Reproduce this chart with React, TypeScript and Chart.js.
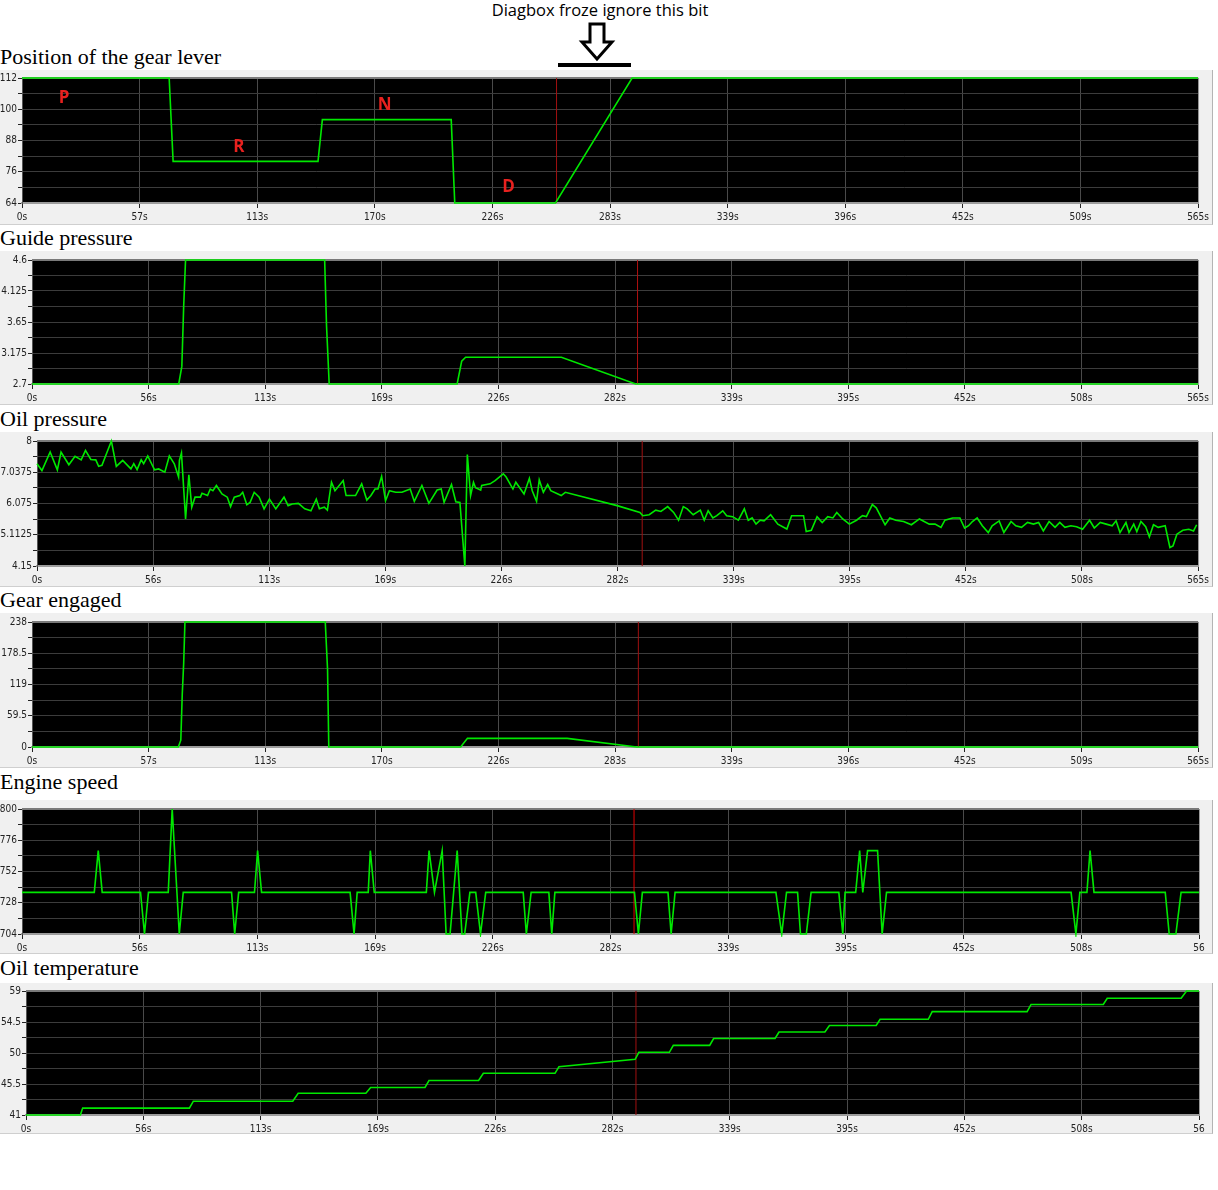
import { useEffect, useRef } from 'react';
import { Chart, registerables } from 'chart.js';

Chart.register(...registerables);

// x axis: tick positions (seconds) and the labels each panel shows
const tickSec = [0, 56.5, 113, 169.5, 226, 282.5, 339, 395.5, 452, 508.5, 565];
const xLabelsA = ['0s', '57s', '113s', '170s', '226s', '283s', '339s', '396s', '452s', '509s', '565s'];
const xLabelsB = ['0s', '56s', '113s', '169s', '226s', '282s', '339s', '395s', '452s', '508s', '565s'];
const xLabelsC = ['0s', '56s', '113s', '169s', '226s', '282s', '339s', '395s', '452s', '508s', '56'];

// Position of the gear lever
const leverT = [0, 70.7, 72.6, 142.2, 144.3, 206.2, 207.9, 256.3, 293.1, 565];
const leverV = [112, 112, 80, 80, 96, 96, 64, 64, 112, 112];
const leverY = ['64', '76', '88', '100', '112'];
const leverLetters = ['P', 'R', 'N', 'D'];
const leverLetterT = [20.2, 104.2, 174.2, 233.8];
const leverLetterV = [104.3, 85.5, 101.6, 70.1];

// Guide pressure
const guideT = [0, 71.1, 72.6, 73.5, 74.4, 141.8, 142.7, 144, 206, 208.2, 210.1, 256.5, 292.5, 565];
const guideV = [2.7, 2.7, 2.97, 3.9, 4.6, 4.6, 3.6, 2.7, 2.7, 3.05, 3.11, 3.11, 2.7, 2.7];
const guideY = ['2.7', '3.175', '3.65', '4.125', '4.6'];

// Oil pressure
const oilT = [
  0, 2.4, 6.4, 9.9, 11.7, 15.5, 18.5, 21.5, 23.6, 26.2, 28.6, 30, 31.6, 36.2, 38.6, 41.7, 45.7, 47.1, 48.7, 50.7,
  51.9, 53.9, 57.2, 59.2, 62.2, 64.4, 66.8, 68.9, 69.3, 70.3, 72.3, 73.9, 75.3, 76.9, 79.5, 80.3, 83, 84.3, 85.6, 87.3,
  90, 92.6, 94.2, 96, 98.7, 100.1, 102.1, 103.7, 105.7, 108.1, 110.5, 113.1, 116.2, 120.2, 122.2, 124.2, 127.2, 130.3,
  133.3, 135.9, 137.4, 139.8, 141.3, 143.3, 145, 149, 150.4, 155, 158, 160.5, 162.5, 164.5, 165.9, 167.7, 169.6, 171.5,
  174.6, 177.6, 181.6, 183.6, 187.3, 190.7, 194.7, 196.7, 198.1, 201.7, 203.8, 205.8, 208.2, 209.4, 211, 212.4, 213.4,
  215.9, 216.4, 220.5, 222.9, 226.9, 228.3, 231.6, 233, 237, 239.6, 241, 243.1, 244.4, 246.4, 248.5, 250, 255.1, 257.1,
  282.3, 293.4, 294.8, 297.9, 301.1, 303.6, 306.9, 309.8, 312.2, 314.5, 316.4, 319.3, 322.8, 324.7, 326.6, 328.9, 330.8,
  333.7, 335.6, 338.5, 341.3, 344.2, 346.1, 348, 349.9, 351.9, 353.8, 357, 360.5, 364.9, 367.2, 370.1, 373, 374.3,
  376.8, 379.6, 382.1, 384.8, 387.3, 389.2, 392.1, 395.3, 398.8, 401.7, 403.6, 406.5, 408.4, 412.7, 415, 417.9, 421.7,
  425.5, 429.4, 434.2, 437, 439.9, 441.8, 445.6, 449.1, 451.4, 453.3, 455.2, 457.5, 460, 462.9, 464.8, 468.2, 470.5,
  474, 476.3, 479.1, 482, 484.9, 487.4, 489.7, 492.5, 495.4, 497.7, 500.2, 503.1, 505.9, 508.8, 512.2, 514.5, 517.4,
  520.3, 523.2, 525.1, 527, 529.9, 531.4, 533.7, 535.2, 537.2, 539.5, 541.3, 543.3, 545.6, 549, 551.3, 552.8, 554.7,
  557.6, 560.5, 562.8, 564.3,
];
const oilV = [
  7.3, 7.09, 7.66, 7.11, 7.66, 7.27, 7.53, 7.42, 7.71, 7.43, 7.42, 7.22, 7.25, 8.0, 7.22, 7.4, 7.14, 7.3, 7.12, 7.42,
  7.3, 7.54, 7.11, 7.14, 7.04, 7.54, 7.3, 6.89, 7.4, 7.63, 5.6, 6.96, 5.96, 6.27, 6.27, 6.39, 6.32, 6.52, 6.47, 6.63,
  6.37, 6.27, 5.98, 6.27, 6.32, 6.42, 6.04, 6.11, 6.42, 6.27, 5.91, 6.21, 5.91, 6.27, 6.01, 6.06, 6.08, 5.91,
  5.85, 6.21, 5.91, 5.96, 5.87, 6.73, 6.47, 6.78, 6.32, 6.32, 6.68, 6.18, 6.32, 6.52, 6.52, 6.91, 6.16, 6.47,
  6.42, 6.42, 6.52, 6.14, 6.63, 6.08, 6.49, 6.52, 6.11, 6.66, 6.13, 6.11, 4.15, 7.58, 6.32, 6.73, 6.56,
  6.49, 6.63, 6.68, 6.78, 6.99, 6.89, 6.52, 6.73, 6.37, 6.85, 6.47, 6.14, 6.8, 6.42, 6.66, 6.47, 6.32, 6.42,
  6.01, 5.8, 5.7, 5.73, 5.87, 5.83, 5.98, 5.8, 5.56, 5.98, 5.91, 5.73, 5.87, 5.56, 5.85, 5.63, 5.7,
  5.85, 5.7, 5.67, 5.56, 5.91, 5.56, 5.63, 5.44, 5.56, 5.54, 5.73, 5.44, 5.29, 5.7, 5.7, 5.7, 5.21,
  5.25, 5.67, 5.49, 5.67, 5.63, 5.8, 5.6, 5.44, 5.56, 5.7, 5.67, 6.04, 5.94, 5.42, 5.63, 5.56, 5.52,
  5.42, 5.6, 5.44, 5.44, 5.34, 5.56, 5.63, 5.63, 5.32, 5.39, 5.52, 5.63, 5.39, 5.18, 5.39, 5.54, 5.18,
  5.52, 5.39, 5.34, 5.49, 5.44, 5.49, 5.23, 5.52, 5.34, 5.49, 5.34, 5.39, 5.36, 5.28, 5.56, 5.32, 5.49,
  5.44, 5.39, 5.54, 5.18, 5.49, 5.18, 5.44, 5.21, 5.52, 5.36, 5.05, 5.42, 5.34, 5.39, 4.72, 4.77, 5.13,
  5.25, 5.28, 5.23, 5.42,
];
const oilY = ['4.15', '5.1125', '6.075', '7.0375', '8'];

// Gear engaged
const gearT = [0, 70.9, 72.1, 72.8, 73.5, 74.1, 142.1, 143.2, 143.8, 207.7, 211, 259.3, 293, 565];
const gearV = [0, 0, 13, 100, 160, 238, 238, 148, 0, 0, 16.5, 16.5, 0, 0];
const gearY = ['0', '59.5', '119', '178.5', '238'];

// Engine speed
const rpmT = [
  0, 34.7, 36.6, 38.5, 56.9, 58.8, 60.7, 70.2, 72.1, 75.5, 77.4, 100.6, 102.1, 104, 111.6, 113.1, 115,
  157.5, 159.4, 160.9, 166.2, 167.2, 169.1, 194.1, 195.4, 198, 201.7, 203.6, 205.5, 208.9, 211.2, 212.5, 215,
  217.8, 220.1, 222.6, 240.6, 242.1, 244.4, 252.9, 254.3, 255.8, 294, 295.9, 297.8, 310.1, 311.6, 313.5,
  361.9, 364.7, 367, 372.3, 373.7, 376.5, 378.8, 392.1, 394, 395.1, 400.2, 402.1, 403.6, 405.9, 410.7, 412.9, 415,
  503.6, 505.9, 507.8, 511.2, 512.7, 514.6, 548.8, 550.7, 553.9, 556.4, 565,
];
const rpmV = [
  736, 736, 768, 736, 736, 704, 736, 736, 800, 704, 736, 736, 704, 736, 736, 768, 736,
  736, 704, 736, 736, 768, 736, 736, 768, 736, 768, 704, 704, 768, 704, 704, 736,
  736, 704, 736, 736, 704, 736, 736, 704, 736, 736, 704, 736, 736, 704, 736,
  736, 704, 736, 736, 704, 704, 736, 736, 704, 736, 736, 768, 736, 768, 768, 704, 736,
  736, 704, 736, 736, 768, 736, 736, 704, 704, 736, 736,
];
const rpmY = ['704', '728', '752', '776', '800'];

// Oil temperature
const tempT = [
  0, 26.2, 27.3, 78.7, 80.6, 128.5, 131.1, 163.7, 166, 192.2, 194.1, 218, 220.3, 254.8, 256.7, 293.4, 295.2,
  309.9, 311.8, 329.3, 331.2, 360.8, 362.7, 384.8, 387, 409.5, 411.4, 434.6, 436.5, 482.2, 484.1, 518.9, 520.8,
  556.4, 559, 565,
];
const tempV = [
  41, 41, 42, 42, 43, 43, 44.15, 44.15, 45, 45, 46, 46, 47.05, 47.05, 48, 49.08, 50.1,
  50.1, 51.1, 51.1, 52.1, 52.1, 53.05, 53.05, 54, 54, 54.9, 54.9, 56, 56, 57.05, 57.05, 57.95,
  57.95, 59, 59,
];
const tempY = ['41', '45.5', '50', '54.5', '59'];

const GREEN = '#00e800';
const FRAME_W = 1212;
const PLOT_RIGHT = 1199;
const TICK_FONT = "'Liberation Sans Narrow', 'DejaVu Sans Condensed', 'Arial Narrow', sans-serif";

type PanelProps = {
  title: string;
  titleTop: number;
  frameTop: number;
  frameBottom: number;
  plotLeft: number;
  plotTop: number;
  plotBottom: number;
  yMin: number;
  yMax: number;
  yLabels: string[];
  xLabels: string[];
  times: number[];
  values: number[];
  markT: number;
  markColor: string;
  letters?: { text: string[]; t: number[]; v: number[] };
};

function Panel(p: PanelProps) {
  const canvasRef = useRef<HTMLCanvasElement>(null);
  const chartRef = useRef<Chart | null>(null);
  const frameH = p.frameBottom - p.frameTop;

  useEffect(() => {
    if (!canvasRef.current) return;
    const ctx = canvasRef.current.getContext('2d');
    if (!ctx) return;
    if (chartRef.current) chartRef.current.destroy();

    const plotBg = {
      id: 'plotBg',
      beforeDraw(chart: any) {
        const { ctx: c, chartArea: a } = chart;
        c.save();
        c.fillStyle = '#000';
        c.fillRect(a.left, a.top, a.right - a.left, a.bottom - a.top);
        c.restore();
      },
      beforeDatasetsDraw(chart: any) {
        const { ctx: c, chartArea: a } = chart;
        c.save();
        c.strokeStyle = '#7a7a7a';
        c.lineWidth = 2;
        c.beginPath();
        c.moveTo(a.left, a.top);
        c.lineTo(a.right, a.top);
        c.stroke();
        c.strokeStyle = '#9a9a9a';
        c.lineWidth = 1;
        c.beginPath();
        c.moveTo(a.right + 0.5, a.top);
        c.lineTo(a.right + 0.5, a.bottom);
        c.stroke();
        c.restore();
      },
      afterDatasetsDraw(chart: any) {
        if (!p.letters) return;
        const { ctx: c } = chart;
        const xs = chart.scales.x;
        const ys = chart.scales.y;
        c.save();
        c.fillStyle = '#e8211f';
        c.font = "bold 17px 'Open Sans', 'Liberation Sans', sans-serif";
        c.textAlign = 'center';
        c.textBaseline = 'middle';
        p.letters.text.forEach((s, i) => {
          c.fillText(s, xs.getPixelForValue(p.letters!.t[i]), ys.getPixelForValue(p.letters!.v[i]));
        });
        c.restore();
      },
    };

    chartRef.current = new Chart(ctx, {
      type: 'line',
      data: {
        datasets: [
          {
            data: p.times.map((t, i) => ({ x: t, y: p.values[i] })),
            borderColor: GREEN,
            borderWidth: 1.6,
            pointRadius: 0,
            tension: 0,
            clip: 3,
          },
          {
            data: [
              { x: p.markT, y: p.yMin },
              { x: p.markT, y: p.yMax },
            ],
            borderColor: p.markColor,
            borderWidth: 1,
            pointRadius: 0,
          },
        ],
      },
      options: {
        animation: false,
        responsive: false,
        events: [],
        layout: { padding: { left: 0, top: p.plotTop - p.frameTop, right: FRAME_W - PLOT_RIGHT, bottom: 0 } },
        plugins: { legend: { display: false }, tooltip: { enabled: false } },
        scales: {
          x: {
            type: 'linear',
            min: 0,
            max: 565,
            afterBuildTicks: (s: any) => {
              s.ticks = tickSec.map((v) => ({ value: v }));
            },
            afterFit: (s: any) => {
              s.height = p.frameBottom - p.plotBottom;
            },
            ticks: {
              autoSkip: false,
              maxRotation: 0,
              padding: 3,
              color: '#222',
              font: { family: TICK_FONT, size: 10 },
              callback: (_v: any, i: number) => p.xLabels[i],
            },
            grid: { color: '#4a4a4a', tickColor: '#222', tickLength: 5, lineWidth: 1 },
            border: { display: true, color: '#9c9c9c', width: 2 },
          },
          y: {
            type: 'linear',
            min: p.yMin,
            max: p.yMax,
            afterBuildTicks: (s: any) => {
              s.ticks = Array.from({ length: 9 }, (_, i) => ({ value: p.yMin + ((p.yMax - p.yMin) * i) / 8 }));
            },
            afterFit: (s: any) => {
              s.width = p.plotLeft;
            },
            ticks: {
              autoSkip: false,
              padding: 1,
              color: '#222',
              font: { family: TICK_FONT, size: 10 },
              callback: (_v: any, i: number) => (i % 2 === 0 ? p.yLabels[i / 2] : ''),
            },
            grid: { color: '#3c3c3c', tickColor: '#222', tickLength: 4, lineWidth: 1 },
            border: { display: true, color: '#555', width: 1 },
          },
        },
      },
      plugins: [plotBg],
    } as any);

    return () => {
      if (chartRef.current) {
        chartRef.current.destroy();
        chartRef.current = null;
      }
    };
  }, []);

  return (
    <>
      <div
        style={{
          position: 'absolute',
          left: 0,
          top: p.titleTop,
          fontFamily: "'Liberation Serif', 'Times New Roman', serif",
          fontSize: 22,
          lineHeight: '25px',
          whiteSpace: 'nowrap',
          color: '#000',
        }}
      >
        {p.title}
      </div>
      <div
        style={{
          position: 'absolute',
          left: 0,
          top: p.frameTop,
          width: FRAME_W,
          height: frameH,
          background: '#f0f0f0',
          borderRight: '1px solid #b4b4b4',
          borderBottom: '1px solid #cfcfcf',
        }}
      >
        <canvas ref={canvasRef} width={FRAME_W} height={frameH} style={{ width: FRAME_W, height: frameH, display: 'block' }} />
      </div>
    </>
  );
}

export default function App() {
  return (
    <div style={{ position: 'absolute', left: 0, top: 0, width: 1218, height: 1190, background: '#fff', overflow: 'hidden' }}>
      <div
        style={{
          position: 'absolute',
          left: 400,
          width: 400,
          top: 0,
          textAlign: 'center',
          fontFamily: "'Open Sans', 'Liberation Sans', sans-serif",
          fontSize: 16.5,
          lineHeight: '20px',
          color: '#000',
        }}
      >
        Diagbox froze ignore this bit
      </div>
      <svg width={1218} height={80} style={{ position: 'absolute', left: 0, top: 0 }}>
        <polygon
          points="590,24 604,24 604,42 612,42 597,59 582,42 590,42"
          fill="#fff"
          stroke="#000"
          strokeWidth={3}
          strokeLinejoin="miter"
        />
        <line x1={558} y1={65} x2={631} y2={65} stroke="#000" strokeWidth={4} />
      </svg>

      <Panel
        title="Position of the gear lever"
        titleTop={44}
        frameTop={70}
        frameBottom={224}
        plotLeft={22}
        plotTop={78}
        plotBottom={203}
        yMin={64}
        yMax={112}
        yLabels={leverY}
        xLabels={xLabelsA}
        times={leverT}
        values={leverV}
        markT={256.8}
        markColor="#a01010"
        letters={{ text: leverLetters, t: leverLetterT, v: leverLetterV }}
      />
      <Panel
        title="Guide pressure"
        titleTop={225}
        frameTop={251}
        frameBottom={404}
        plotLeft={32}
        plotTop={260}
        plotBottom={384}
        yMin={2.7}
        yMax={4.6}
        yLabels={guideY}
        xLabels={xLabelsB}
        times={guideT}
        values={guideV}
        markT={293.4}
        markColor="#b01010"
      />
      <Panel
        title="Oil pressure"
        titleTop={406}
        frameTop={432}
        frameBottom={586}
        plotLeft={37}
        plotTop={441}
        plotBottom={566}
        yMin={4.15}
        yMax={8}
        yLabels={oilY}
        xLabels={xLabelsB}
        times={oilT}
        values={oilV}
        markT={294.5}
        markColor="#a01010"
      />
      <Panel
        title="Gear engaged"
        titleTop={587}
        frameTop={613}
        frameBottom={767}
        plotLeft={32}
        plotTop={622}
        plotBottom={747}
        yMin={0}
        yMax={238}
        yLabels={gearY}
        xLabels={xLabelsA}
        times={gearT}
        values={gearV}
        markT={293.8}
        markColor="#a01010"
      />
      <Panel
        title="Engine speed"
        titleTop={769}
        frameTop={800}
        frameBottom={953}
        plotLeft={22}
        plotTop={809}
        plotBottom={934}
        yMin={704}
        yMax={800}
        yLabels={rpmY}
        xLabels={xLabelsC}
        times={rpmT}
        values={rpmV}
        markT={293.8}
        markColor="#e00000"
      />
      <Panel
        title="Oil temperature"
        titleTop={955}
        frameTop={983}
        frameBottom={1133}
        plotLeft={26}
        plotTop={991}
        plotBottom={1115}
        yMin={41}
        yMax={59}
        yLabels={tempY}
        xLabels={xLabelsC}
        times={tempT}
        values={tempV}
        markT={293.8}
        markColor="#a01010"
      />
    </div>
  );
}
